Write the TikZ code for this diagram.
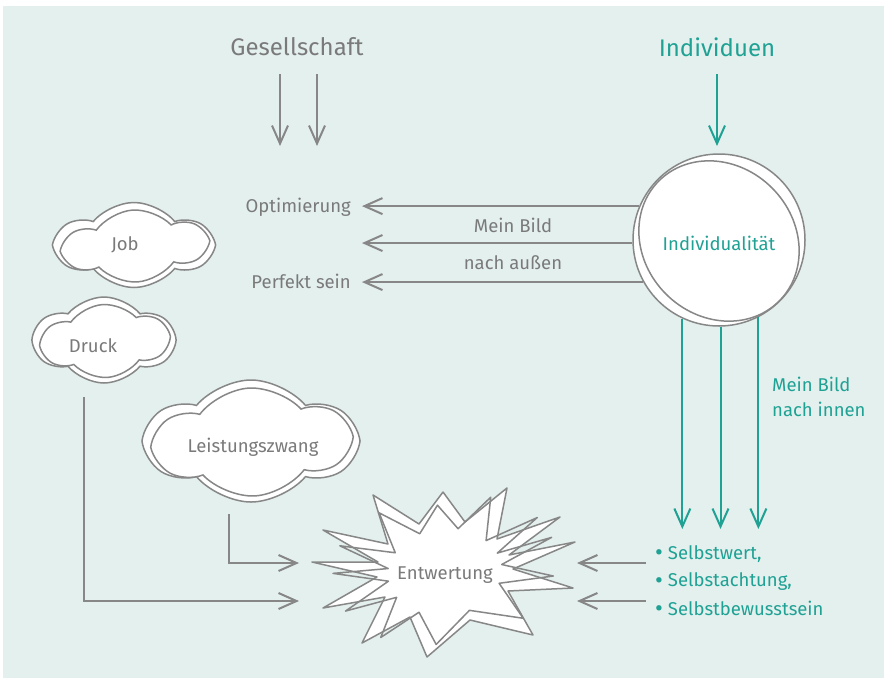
\documentclass[tikz,border=0pt]{standalone}
\usepackage{fontspec}
\setmainfont{Fira Sans}
\usetikzlibrary{shapes.symbols,shapes.geometric,arrows.meta}
\definecolor{bg}{HTML}{E3F0EE}
\definecolor{gr}{HTML}{878787}
\definecolor{grt}{HTML}{7A7A7A}
\definecolor{tl}{HTML}{1FA194}
\newcommand{\bul}{{\fontsize{24}{20}\selectfont\raisebox{-1.5pt}{•}}\hspace{5pt}}
\begin{document}
\begin{tikzpicture}[x=1pt,y=-1pt,
  lbl/.style={font=\fontsize{18.5}{25}\selectfont, text=grt, inner sep=0},
  tlbl/.style={font=\fontsize{18.5}{25}\selectfont, text=tl, inner sep=0},
  big/.style={font=\fontsize{24}{28}\selectfont, inner sep=0},
  arr/.style={draw=gr, line width=2pt, -{Straight Barb[length=18pt,width=16pt]}},
  tarr/.style={draw=tl, line width=2pt, -{Straight Barb[length=18pt,width=16pt]}},
  cloudA/.style={cloud, cloud puffs=6, cloud puff arc=100, cloud ignores aspect, draw=gr, line width=1.5pt, fill=white, inner sep=0},
  outl/.style={draw=gr, line width=1.5pt}
]
\useasboundingbox (0,0) rectangle (884,678);
\fill[white] (0,0) rectangle (884,678);
\fill[bg] (3,6) rectangle (884,678);

% titles
\node[big, text=grt] (ges) at (297,47) {Gesellschaft};
\node[big, text=tl] (indv) at (717,47) {Individuen};
\coordinate (g1s) at (280,74); \coordinate (g1e) at (280,146);
\coordinate (g2s) at (317,74); \coordinate (g2e) at (317,146);
\coordinate (i1s) at (717,74); \coordinate (i1e) at (717,146);
\draw[arr] (g1s) -- (g1e);
\draw[arr] (g2s) -- (g2e);
\draw[tarr] (i1s) -- (i1e);

% circle
\node[circle, outl, fill=white, minimum size=172pt, inner sep=0] (indo) at (719,240) {};
\node[ellipse, outl, minimum width=170pt, minimum height=150pt, inner sep=0, rotate=-45] (indi) at (719,241) {};
\node[tlbl] (ind) at (719,243) {Individualität};

% left arrows from circle
\coordinate (tipcol) at (362,0);
\draw[arr] (indo.157.4) -- (indo.157.4 -| tipcol);
\draw[arr] (indo.182.7) -- (indo.182.7 -| tipcol);
\draw[arr] (indo.209.2) -- (indo.209.2 -| tipcol);
\node[lbl, anchor=east] (opt) at (351,207) {Optimierung};
\node[lbl, anchor=east] (perf) at (351,281) {Perfekt sein};
\node[lbl] (mb) at (513,225) {Mein Bild};
\node[lbl] (na) at (513,263) {nach außen};

% down arrows
\coordinate (tipT) at (0,529);
\draw[tarr] (indo.245.3) -- (indo.245.3 |- tipT);
\draw[tarr] (indo.271.3) -- (indo.271.3 |- tipT);
\draw[tarr] (indo.297.7) -- (indo.297.7 |- tipT);
\node[tlbl, anchor=west] (mbi1) at (772,384) {Mein Bild};
\node[tlbl, anchor=west] (mbi2) at (772,409) {nach innen};

% bullets
\node[tlbl, anchor=west] (b1) at (655,554) {\bul Selbstwert,};
\node[tlbl, anchor=west] (b2) at (655,582) {\bul Selbstachtung,};
\node[tlbl, anchor=west] (b3) at (655,609) {\bul Selbstbewusstsein};

% clouds
\node[cloudA, minimum width=154pt, minimum height=85pt] (jobo) at (134,245) {};
\node[cloudA, minimum width=140pt, minimum height=72pt, rotate=4] (jobi) at (135,246) {};
\node[lbl] (job) at (125,245) {Job};

\node[cloudA, minimum width=139pt, minimum height=86pt] (druo) at (104,340) {};
\node[cloudA, minimum width=125pt, minimum height=73pt, rotate=4] (drui) at (105,341) {};
\node[lbl] (dru) at (93,346) {Druck};

\node[cloudA, minimum width=208pt, minimum height=122pt] (lzo) at (251,441) {};
\node[cloudA, minimum width=192pt, minimum height=108pt, rotate=3] (lzi) at (252,442) {};
\node[lbl] (lz) at (253,447) {Leistungszwang};

% explosion
\def\burst{(312,562) -- (378,562) -- (323,530) -- (388,544) -- (373,495) -- (419,524) -- (443,492) -- (465,522) -- (507,488) -- (497,539) -- (560,517) -- (509,555) -- (575,542) -- (513,569) -- (573,588) -- (508,591) -- (533,635) -- (470,620) -- (427,657) -- (410,617) -- (362,643) -- (385,597) -- (323,608) -- (377,577) -- cycle}
\draw[outl, fill=white, line join=round] \burst;
\draw[outl, line join=round, shift={(445,572)}, rotate=5, scale=0.84, shift={(-445,-572)}] \burst;
\node[lbl] (ent) at (445,575) {Entwertung};

% arrows into explosion
\coordinate (r1s) at (646,563); \coordinate (r1e) at (577,563);
\coordinate (r2s) at (646,601); \coordinate (r2e) at (577,601);
\draw[arr] (r1s) -- (r1e);
\draw[arr] (r2s) -- (r2e);
\coordinate (l1s) at (229,514); \coordinate (l1e) at (299,563);
\coordinate (l2s) at (84,397); \coordinate (l2e) at (299,601);
\draw[arr] (l1s) |- (l1e);
\draw[arr] (l2s) |- (l2e);
\end{tikzpicture}
\end{document}
